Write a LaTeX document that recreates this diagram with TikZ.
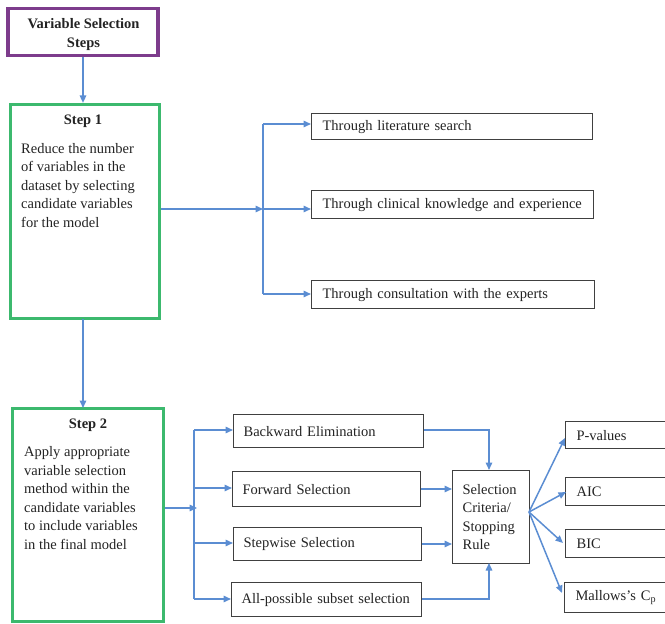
\documentclass[tikz,border=0pt]{standalone}
\usepackage{fontspec}
\setmainfont{Liberation Serif}
\usetikzlibrary{arrows.meta,calc}
\definecolor{arrowblue}{RGB}{91,141,210}
\definecolor{stepgreen}{RGB}{60,185,110}
\definecolor{headpurple}{RGB}{125,60,140}
\definecolor{boxgray}{RGB}{64,64,64}
\definecolor{txtgray}{RGB}{35,35,35}
\newcommand{\fsz}{\fontsize{14.5}{18.5}\selectfont}
\tikzset{
  base/.style={font=\fsz, text=txtgray},
  boldtxt/.style={base, font=\fsz\bfseries},
  headbox/.style={draw=headpurple, line width=3.2pt, rectangle, inner sep=0pt},
  stepbox/.style={draw=stepgreen, line width=3.2pt, rectangle, inner sep=0pt},
  plainbox/.style={base, draw=boxgray, line width=1.2pt, rectangle, inner ysep=0pt, align=left, anchor=north west},
  conn/.style={draw=arrowblue, line width=1.5pt},
  arr/.style={conn, -{Triangle[length=7.5pt,width=6.5pt]}},
}
\begin{document}
\begin{tikzpicture}[x=1pt,y=-1pt]
\useasboundingbox (0,0) rectangle (665,624);
\clip (0,0) rectangle (665,624);
% header
\node[headbox, minimum width=150pt, minimum height=47pt] (head) at (83,32) {};
\node[boldtxt, align=center, anchor=base, inner sep=0pt] (headt) at (83.5,47) {Variable Selection\\Steps};
% step 1
\node[stepbox, minimum width=149pt, minimum height=214pt] (s1) at (85,211.5) {};
\node[boldtxt, anchor=base] (s1t) at (83,124) {Step 1};
\node[base, align=left, anchor=base west, inner sep=0pt] (s1b) at (21,227) {Reduce the number\\of variables in the\\dataset by selecting\\candidate variables\\for the model};
% step 2
\node[stepbox, minimum width=151pt, minimum height=213pt] (s2) at (88,515) {};
\node[boldtxt, anchor=base] (s2t) at (88,428) {Step 2};
\node[base, align=left, anchor=base west, inner sep=0pt] (s2b) at (24,549) {Apply appropriate\\variable selection\\method within the\\candidate variables\\to include variables\\in the final model};
% step 1 options
\node[plainbox, minimum height=26pt, text width=259pt, inner xsep=11pt] (lit) at (311,113) {\mbox{Through literature search}};
\node[plainbox, minimum height=28pt, text width=260pt, inner xsep=11pt] (clin) at (311,190) {\mbox{Through clinical knowledge and experience}};
\node[plainbox, minimum height=28pt, text width=261pt, inner xsep=11pt] (cons) at (311,280) {\mbox{Through consultation with the experts}};
% step 2 methods
\node[plainbox, minimum height=33pt, text width=170pt, inner xsep=10pt] (back) at (233,414) {\mbox{Backward Elimination}};
\node[plainbox, minimum height=35pt, text width=168pt, inner xsep=10pt] (fwd) at (232,471) {\mbox{Forward Selection}};
\node[plainbox, minimum height=33pt, text width=168pt, inner xsep=10pt] (stw) at (233,527) {\mbox{Stepwise Selection}};
\node[plainbox, minimum height=34pt, text width=170pt, inner xsep=10pt] (allp) at (231,582) {\mbox{All-possible subset selection}};
% selection criteria
\node[plainbox, minimum height=93pt, text width=57pt, inner xsep=10pt] (sel) at (452,470) {Selection\\Criteria/\\Stopping\\Rule};
% criteria
\node[plainbox, minimum height=27pt, text width=120pt, inner xsep=11pt] (pv) at (565,421) {P-values};
\node[plainbox, minimum height=28pt, text width=120pt, inner xsep=11pt] (aic) at (565,477) {AIC};
\node[plainbox, minimum height=28pt, text width=120pt, inner xsep=11pt] (bic) at (565,529) {BIC};
\node[plainbox, minimum height=30pt, text width=120pt, inner xsep=11pt] (mal) at (564,582) {\mbox{Mallows’s C\textsubscript{p}}};
% connectors top
\draw[arr] (head.south) -- (head.south |- s1.north);
\coordinate (j1) at (263,209);
\draw[arr] (s1.east |- j1) -- (j1);
\draw[conn] (263,124) -- (263,294);
\draw[arr] (263,124) -- (lit.west |- 0,124);
\draw[arr] (j1) -- (j1 -| clin.west);
\draw[arr] (263,294) -- (cons.west |- 0,294);
% step1 -> step2
\draw[arr] (83,319) -- (83,408);
% step 2 fan
\coordinate (j2) at (194,508);
\draw[arr] (s2.east |- j2) -- ($(j2)+(3,0)$);
\draw[conn] (194,430) -- (194,599);
\draw[arr] (194,430) -- (back.west |- 0,430);
\draw[arr] (194,488) -- (fwd.west |- 0,488);
\draw[arr] (194,543) -- (stw.west |- 0,543);
\draw[arr] (194,599) -- (allp.west |- 0,599);
% into selection
\draw[arr] (back.east |- 0,430) -| (489,470);
\draw[arr] (fwd.east |- 0,489) -- (sel.west |- 0,489);
\draw[arr] (stw.east |- 0,544) -- (sel.west |- 0,544);
\draw[arr] (allp.east |- 0,599) -| (489,563);
% out of selection
\coordinate (so) at (529,512);
\draw[arr] (so) -- (565,438);
\draw[arr] (so) -- (566,492);
\draw[arr] (so) -- (563,543);
\draw[arr] (so) -- (562,593);
\end{tikzpicture}
\end{document}
